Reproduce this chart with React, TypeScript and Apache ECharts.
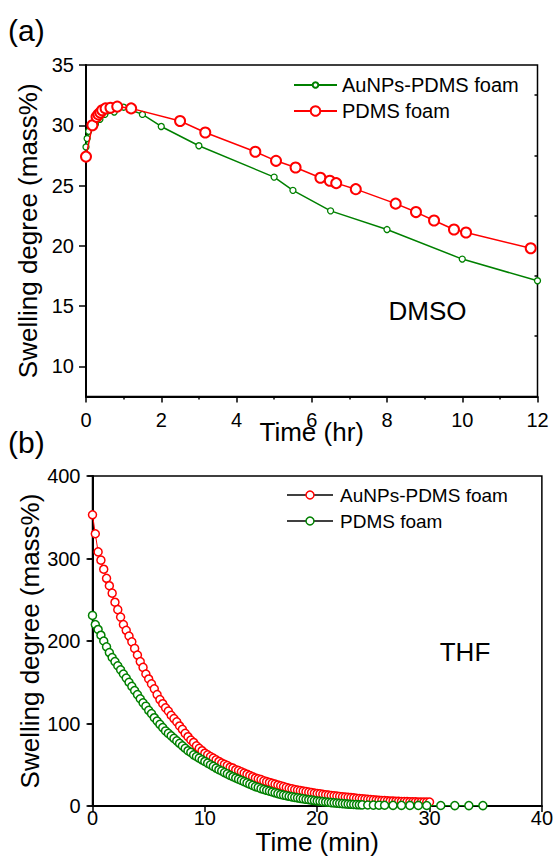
import React, { useEffect, useRef } from "react";
import * as echarts from "echarts";

// ---------- (a) DMSO ----------
const dmsoAuTime = [0, 0.03, 0.07, 0.25, 0.37, 0.5, 0.75, 1.0, 1.5, 2, 3, 5, 5.5, 6.5, 8, 10, 12];
const dmsoAuValue = [28.2, 28.9, 29.5, 30.1, 30.5, 30.9, 31.1, 31.5, 30.9, 29.9, 28.3, 25.7, 24.6, 22.9, 21.35, 18.9, 17.1];

const dmsoPdmsTime = [0, 0.17, 0.28, 0.33, 0.38, 0.43, 0.52, 0.65, 0.83, 1.2, 2.5, 3.17, 4.5, 5.05, 5.57, 6.23, 6.48, 6.65, 7.17, 8.23, 8.77, 9.25, 9.78, 10.1, 11.82];
const dmsoPdmsValue = [27.4, 30.0, 30.7, 30.9, 31.05, 31.25, 31.4, 31.45, 31.55, 31.4, 30.35, 29.4, 27.8, 27.05, 26.5, 25.65, 25.4, 25.2, 24.7, 23.5, 22.8, 22.1, 21.35, 21.1, 19.8];

const dmsoYTicks = [10, 15, 20, 25, 30, 35];
const dmsoYMinorTicks = [12.5, 17.5, 22.5, 27.5, 32.5];

// ---------- (b) THF ----------
const thfAuTime = [
  0, 0.25, 0.5, 0.75, 1, 1.25, 1.5, 1.75, 2, 2.25, 2.5, 2.75, 3, 3.25, 3.5, 3.75, 4, 4.25, 4.5, 4.75,
  5, 5.25, 5.5, 5.75, 6, 6.25, 6.5, 6.75, 7, 7.25, 7.5, 7.75, 8, 8.25, 8.5, 8.75, 9, 9.25, 9.5, 9.75,
  10, 10.25, 10.5, 10.75, 11, 11.25, 11.5, 11.75, 12, 12.25, 12.5, 12.75, 13, 13.25, 13.5, 13.75, 14, 14.25, 14.5, 14.75,
  15, 15.25, 15.5, 15.75, 16, 16.25, 16.5, 16.75, 17, 17.25, 17.5, 17.75, 18, 18.25, 18.5, 18.75, 19, 19.25, 19.5, 19.75,
  20, 20.25, 20.5, 20.75, 21, 21.25, 21.5, 21.75, 22, 22.25, 22.5, 22.75, 23, 23.25, 23.5, 23.75, 24, 24.25, 24.5, 24.75,
  25, 25.25, 25.5, 25.75, 26, 26.25, 26.5, 26.75, 27, 27.25, 27.5, 27.75, 28, 28.25, 28.5, 28.75, 29, 29.25, 29.5, 29.75, 30,
];
const thfAuValue = [
  353, 330, 308, 298, 287, 276, 267, 258, 247, 238, 229, 220, 213, 206, 199, 191, 183, 175, 168, 160,
  154, 148, 142, 135, 129, 124, 119, 115, 110, 106, 102, 97, 93, 88, 84, 80, 77, 73, 70, 67,
  64, 62, 60, 58, 56, 54, 52, 50.5, 49, 47, 46, 44, 43, 41.5, 40, 38.5, 37, 35.5, 34, 33,
  32, 30.5, 29.5, 28.5, 27.5, 26.5, 25.5, 24.5, 23.5, 22.5, 21.5, 20.8, 20, 19.3, 18.6, 18, 17.4, 16.8, 16.3, 15.7,
  15.2, 14.7, 14.2, 13.7, 13.2, 12.8, 12.4, 12, 11.6, 11.2, 10.8, 10.5, 10.1, 9.8, 9.4, 9.1, 8.7, 8.4, 8.1, 7.8,
  7.5, 7.2, 7, 6.7, 6.5, 6.3, 6.1, 5.9, 5.8, 5.6, 5.5, 5.4, 5.3, 5.2, 5.1, 5, 4.9, 4.8, 4.8, 4.7, 4.7,
];

const thfPdmsTime = [
  0, 0.25, 0.5, 0.75, 1, 1.25, 1.5, 1.75, 2, 2.25, 2.5, 2.75, 3, 3.25, 3.5, 3.75, 4, 4.25, 4.5, 4.75,
  5, 5.25, 5.5, 5.75, 6, 6.25, 6.5, 6.75, 7, 7.25, 7.5, 7.75, 8, 8.25, 8.5, 8.75, 9, 9.25, 9.5, 9.75,
  10, 10.25, 10.5, 10.75, 11, 11.25, 11.5, 11.75, 12, 12.25, 12.5, 12.75, 13, 13.25, 13.5, 13.75, 14, 14.25, 14.5, 14.75,
  15, 15.25, 15.5, 15.75, 16, 16.25, 16.5, 16.75, 17, 17.25, 17.5, 17.75, 18, 18.25, 18.5, 18.75, 19, 19.25, 19.5, 19.75,
  20, 20.25, 20.5, 20.75, 21, 21.25, 21.5, 21.75, 22, 22.25, 22.5, 22.75, 23, 23.25, 23.5, 23.75, 24,
  24.5, 25, 25.5, 26, 26.75, 27.5, 28.25, 29, 29.75, 31, 32.25, 33.5, 34.75,
];
const thfPdmsValue = [
  231, 220, 214, 207, 200, 193, 186, 180, 175, 170, 165, 160, 155, 150, 145, 140, 135, 130, 125, 121,
  116, 112, 107, 103, 99, 95, 91, 88, 85, 82, 79, 76, 73, 70, 67, 65, 62, 60, 58, 56,
  54, 52, 50, 48, 46, 44, 42.5, 40.5, 39, 37, 35.5, 34, 32.5, 31, 29.5, 28, 26.5, 25, 23.5, 22.5,
  21, 20, 19, 18, 17, 16, 15, 14, 13.2, 12.5, 11.8, 11.1, 10.5, 9.9, 9.3, 8.7, 8.1, 7.6, 7.1, 6.6,
  6.1, 5.7, 5.3, 4.9, 4.5, 4.1, 3.8, 3.5, 3.2, 2.9, 2.6, 2.3, 2.1, 1.9, 1.7, 1.5, 1.4,
  1.2, 1.1, 1.0, 0.9, 0.8, 0.8, 0.7, 0.7, 0.6, 0.6, 0.5, 0.5, 0.5,
];

const labelA = "AuNPs-PDMS foam";
const labelB = "PDMS foam";

const RED = "#ff0000";
const GREEN = "#008000";
const FONT = "'Liberation Sans', Arial, sans-serif";

const zip = (xs: number[], ys: number[]) => xs.map((x, i) => [x, ys[i]]);

function legendRow(y: number, color: string, text: string) {
  return {
    type: "group",
    children: [
      { type: "line", shape: { x1: 287, y1: y, x2: 333, y2: y }, style: { stroke: "#000", lineWidth: 1.5 } },
      { type: "circle", shape: { cx: 310, cy: y, r: 4 }, style: { fill: "#fff", stroke: color, lineWidth: 1.5 } },
      { type: "text", x: 340, y, style: { text, fontSize: 19, fontFamily: FONT, fill: "#000", verticalAlign: "middle" } },
    ],
  };
}

export default function App() {
  const ref = useRef<HTMLDivElement>(null);

  useEffect(() => {
    document.body.style.margin = "0";
    if (!ref.current) return;
    const chart = echarts.init(ref.current, null, { renderer: "svg" });

    const axisLine = { show: true, onZero: false, lineStyle: { color: "#000", width: 2 } };
    const tickStyle = { color: "#000", width: 1.5 };
    const labelStyle = { color: "#000", fontSize: 20, fontFamily: FONT };
    const nameStyle = { color: "#000", fontSize: 26, fontFamily: FONT };

    chart.setOption({
      animation: false,
      backgroundColor: "#fff",
      textStyle: { fontFamily: FONT },
      grid: [
        { left: 86, top: 65, width: 451.5, height: 331.5, show: true, borderColor: "#000", borderWidth: 1.5, containLabel: false },
        { left: 92.5, top: 476, width: 451.5, height: 330, show: true, borderColor: "#000", borderWidth: 1.5, containLabel: false },
      ],
      xAxis: [
        {
          gridIndex: 0, type: "value", min: 0, max: 12, interval: 2,
          axisLine, splitLine: { show: false },
          axisTick: { show: true, length: 6, lineStyle: tickStyle },
          minorTick: { show: true, splitNumber: 2, length: 3, lineStyle: tickStyle },
          minorSplitLine: { show: false },
          axisLabel: { ...labelStyle, margin: 13 },
          name: "Time (hr)", nameLocation: "middle", nameGap: 22, nameMoveOverlap: false, nameTextStyle: nameStyle,
        },
        {
          gridIndex: 1, type: "value", min: 0, max: 40, interval: 10,
          axisLine, splitLine: { show: false },
          axisTick: { show: true, length: 6, lineStyle: tickStyle },
          axisLabel: { ...labelStyle, margin: 2 },
          name: "Time (min)", nameLocation: "middle", nameGap: 23, nameMoveOverlap: false, nameTextStyle: nameStyle,
        },
      ],
      yAxis: [
        {
          gridIndex: 0, type: "value", min: 7.5, max: 35, interval: 2.5, position: "left",
          axisLine, splitLine: { show: false },
          axisTick: { show: true, length: 7, lineStyle: tickStyle, customValues: dmsoYTicks },
          axisLabel: { ...labelStyle, margin: 12, customValues: dmsoYTicks },
          name: "Swelling degree (mass%)", nameLocation: "middle", nameGap: 45, nameMoveOverlap: false, nameTextStyle: nameStyle,
        },
        {
          gridIndex: 0, type: "value", min: 7.5, max: 35, interval: 2.5, position: "right", offset: -451.5,
          axisLine: { show: false }, splitLine: { show: false },
          axisTick: { show: true, inside: true, length: 3, lineStyle: tickStyle, customValues: dmsoYMinorTicks },
          axisLabel: { show: false },
        },
        {
          gridIndex: 1, type: "value", min: 0, max: 400, interval: 100, position: "left",
          axisLine, splitLine: { show: false },
          axisTick: { show: true, length: 6, lineStyle: tickStyle },
          axisLabel: { ...labelStyle, margin: 12 },
          name: "Swelling degree (mass%)", nameLocation: "middle", nameGap: 50, nameMoveOverlap: false, nameTextStyle: nameStyle,
        },
        {
          gridIndex: 1, type: "value", min: 0, max: 400, interval: 100, position: "right",
          axisLine: { show: false }, splitLine: { show: false },
          axisTick: { show: true, inside: true, length: 5, lineStyle: tickStyle },
          axisLabel: { show: false },
        },
      ],
      legend: [
        {
          data: [labelA], orient: "vertical", left: 293, top: 75, padding: 0,
          itemWidth: 43, itemHeight: 7, selectedMode: false,
          textStyle: { color: "#000", fontSize: 20, fontFamily: FONT },
        },
        {
          data: [labelB], orient: "vertical", left: 293, top: 101, padding: 0,
          itemWidth: 43, itemHeight: 12, selectedMode: false,
          textStyle: { color: "#000", fontSize: 20, fontFamily: FONT },
        },
      ],
      graphic: [
        { type: "text", left: 8, top: 15, style: { text: "(a)", fontSize: 30, fontFamily: FONT, fill: "#000" } },
        { type: "text", left: 8, top: 427, style: { text: "(b)", fontSize: 30, fontFamily: FONT, fill: "#000" } },
        { type: "text", x: 427.5, y: 311, style: { text: "DMSO", fontSize: 26, fontFamily: FONT, fill: "#000", align: "center", verticalAlign: "middle" } },
        { type: "text", x: 465, y: 652, style: { text: "THF", fontSize: 26, fontFamily: FONT, fill: "#000", align: "center", verticalAlign: "middle" } },
        legendRow(495, RED, labelA),
        legendRow(521, GREEN, labelB),
      ],
      series: [
        {
          name: labelA, type: "line", xAxisIndex: 0, yAxisIndex: 0,
          data: zip(dmsoAuTime, dmsoAuValue),
          symbol: "circle", symbolSize: 6,
          itemStyle: { color: "#fff", borderColor: GREEN, borderWidth: 1.3 },
          lineStyle: { color: GREEN, width: 1.5 },
          z: 2,
        },
        {
          name: labelB, type: "line", xAxisIndex: 0, yAxisIndex: 0,
          data: zip(dmsoPdmsTime, dmsoPdmsValue),
          symbol: "circle", symbolSize: 10,
          itemStyle: { color: "#fff", borderColor: RED, borderWidth: 2 },
          lineStyle: { color: RED, width: 1.5 },
          z: 3,
        },
        {
          name: "thfAu", type: "line", xAxisIndex: 1, yAxisIndex: 2,
          data: zip(thfAuTime, thfAuValue),
          symbol: "circle", symbolSize: 8,
          itemStyle: { color: "#fff", borderColor: RED, borderWidth: 1.5 },
          lineStyle: { color: RED, width: 1 },
          z: 2,
        },
        {
          name: "thfPdms", type: "line", xAxisIndex: 1, yAxisIndex: 2,
          data: zip(thfPdmsTime, thfPdmsValue),
          symbol: "circle", symbolSize: 8,
          itemStyle: { color: "#fff", borderColor: GREEN, borderWidth: 1.5 },
          lineStyle: { color: GREEN, width: 1 },
          z: 3,
        },
      ],
    });

    return () => chart.dispose();
  }, []);

  return <div ref={ref} style={{ width: 556, height: 861 }} />;
}
